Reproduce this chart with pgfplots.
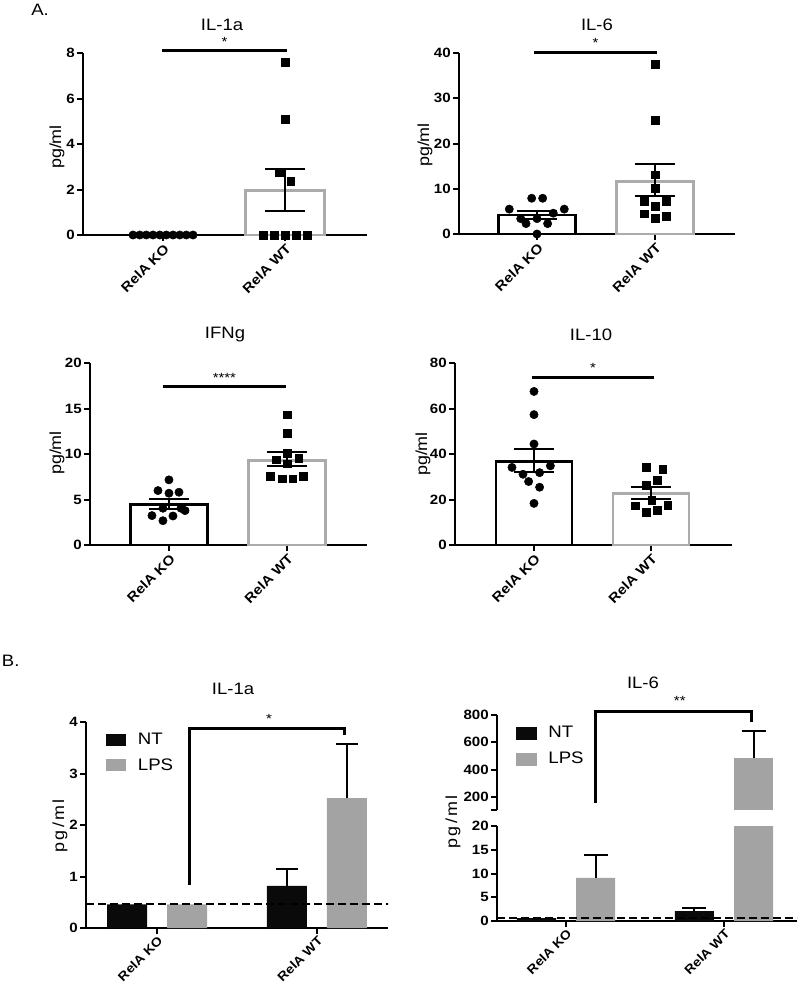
\documentclass[border=0pt]{standalone}
\usepackage{fontspec}
\setmainfont[FakeStretch=1.12]{Liberation Sans}
\usepackage{pgfplots}
\pgfplotsset{compat=1.18}
\definecolor{bargray}{HTML}{A3A3A3}
\definecolor{edgegray}{HTML}{ABABAB}
\definecolor{ntc}{HTML}{0A0A0A}
\newcommand{\tickfont}{\bfseries\fontsize{10.1}{12}\selectfont}
\newcommand{\btickfont}{\bfseries\fontsize{9.4}{11}\selectfont}
\newcommand{\titlefont}{\fontsize{12.4}{14}\selectfont}
\newcommand{\labfont}{\fontsize{12}{14}\selectfont}
\newcommand{\starfont}{\fontsize{10}{11}\selectfont}
\newcommand{\legfont}{\fontsize{12.5}{14}\selectfont}
\pgfplotsset{
  gp/.style={
    scale only axis, anchor=south west,
    axis lines=left, axis line style={-, line width=1.5pt},
    tick align=outside, major tick length=4.5pt,
    every tick/.style={black, line width=1.5pt},
    ymin=0, xtick={0,1}, xticklabels={RelA KO, RelA WT},
    x tick label style={rotate=45, anchor=north east, inner sep=1pt, font=\tickfont},
    y tick label style={font=\tickfont, inner sep=1.5pt},
    /pgf/number format/assume math mode=true,
  },
  bx/.style={x tick label style={font=\btickfont, inner sep=0.5pt}},
  kobar/.style={ybar, bar shift=0pt, fill=white, draw=black, line width=2pt},
  wtbar/.style={ybar, bar shift=0pt, fill=white, draw=edgegray, line width=2pt},
  errA/.style={draw=none, mark=none, forget plot,
    error bars/.cd, y dir=both, y explicit,
    error bar style={line width=1.5pt, black},
    error mark options={rotate=90, line width=1.5pt, black, mark size=15pt}},
  errB/.style={draw=none, mark=none, forget plot,
    error bars/.cd, y dir=plus, y explicit,
    error bar style={line width=1.5pt, black},
    error mark options={rotate=90, line width=1.5pt, black, mark size=#1}},
  kopts/.style={only marks, mark=*, mark size=3.1pt, black},
  wtpts/.style={only marks, mark=square*, mark size=2.9pt, black},
  ntleg/.style={legend image code/.code={\fill[ntc] (0pt,-4.5pt) rectangle (15pt,4.5pt);}},
  lpsleg/.style={legend image code/.code={\fill[bargray] (0pt,-4.5pt) rectangle (15pt,4.5pt);}},
  bleg/.style={legend style={draw=none, fill=none, at={#1}, anchor=north west,
    font=\legfont, row sep=5pt, column sep=7pt, inner sep=0pt},
    legend cell align=left},
}
\begin{document}
\begin{tikzpicture}
\path[use as bounding box] (0pt,0pt) rectangle (600pt,-738.75pt);

% ---------- text ----------
\node[font=\titlefont] at (30pt,-7pt) {A.};
\node[font=\titlefont] at (8pt,-495.75pt) {B.};
\node[font=\titlefont] at (166.5pt,-18.75pt) {IL-1a};
\node[font=\titlefont] at (447.75pt,-18.75pt) {IL-6};
\node[font=\titlefont] at (168.75pt,-251.25pt) {IFNg};
\node[font=\titlefont] at (443.25pt,-251.25pt) {IL-10};
\node[font=\titlefont] at (174.75pt,-516.75pt) {IL-1a};
\node[font=\titlefont] at (482.25pt,-512.25pt) {IL-6};
\node[font=\labfont, rotate=90] at (42.75pt,-110.25pt) {pg/ml};
\node[font=\labfont, rotate=90] at (318.75pt,-108.75pt) {pg/ml};
\node[font=\labfont, rotate=90] at (42.75pt,-339.75pt) {pg/ml};
\node[font=\labfont, rotate=90] at (317.25pt,-340.5pt) {pg/ml};
\node[font=\labfont\addfontfeature{LetterSpace=14}, rotate=90] at (45pt,-619.5pt) {pg/ml};
\node[font=\labfont\addfontfeature{LetterSpace=14}, rotate=90] at (339.75pt,-616.5pt) {pg/ml};

% ---------- A1 IL-1a ----------
\begin{axis}[gp, at={(62.25pt,-176.25pt)}, width=213pt, height=136.5pt,
  xmin=-0.656, xmax=1.672, ymax=8, ytick={0,2,4,6,8}, clip=false]
\addplot[kobar, bar width=0.648] coordinates {(0,0)};
\addplot[wtbar, bar width=0.648] coordinates {(1,1.95)};
\addplot[errA] coordinates {(1,1.95) += (0,0.95) -= (0,0.9)};
\addplot[kopts] coordinates {(-0.246,0) (-0.191,0) (-0.137,0) (-0.082,0) (-0.027,0) (0.027,0) (0.082,0) (0.137,0) (0.191,0) (0.246,0)};
\addplot[wtpts] coordinates {(1,7.6) (1,5.1) (0.954,2.75) (1.046,2.35) (0.82,0) (0.91,0) (1,0) (1.09,0) (1.18,0)};
\draw[line width=2.25pt] (-0.008,8.09) -- (1.016,8.09) node[midway, above=-1pt, font=\starfont] {*};
\end{axis}

% ---------- A2 IL-6 ----------
\begin{axis}[gp, at={(344.25pt,-175.5pt)}, width=207pt, height=135.75pt,
  xmin=-0.661, xmax=1.678, ymax=40, ytick={0,10,20,30,40}, clip=false]
\addplot[kobar, bar width=0.653] coordinates {(0,4.2)};
\addplot[wtbar, bar width=0.653] coordinates {(1,11.6)};
\addplot[errA] coordinates {(0,4.2) += (0,0.9) -= (0,0.8)};
\addplot[errA] coordinates {(1,11.6) += (0,3.8) -= (0,3.3)};
\addplot[kopts] coordinates {(-0.045,7.9) (0.048,7.9) (-0.235,5.5) (0.231,5.5) (0.138,4.6) (-0.138,3.4) (0,3.4) (-0.093,2.3) (0.09,2.3) (0,0)};
\addplot[wtpts] coordinates {(1,37.5) (1,25.2) (1,13.1) (1,10.1) (0.907,7.2) (1.093,7.2) (1,6.1) (0.907,4.5) (1,3.4) (1.093,3.9)};
\draw[line width=2.25pt] (-0.025,40.2) -- (1.017,40.2) node[midway, above=-1pt, font=\starfont] {*};
\end{axis}

% ---------- A3 IFNg ----------
\begin{axis}[gp, at={(67.5pt,-408.75pt)}, width=207.75pt, height=136.5pt,
  xmin=-0.669, xmax=1.678, ymax=20, ytick={0,5,10,15,20}, clip=false]
\addplot[kobar, bar width=0.653] coordinates {(0,4.48)};
\addplot[wtbar, bar width=0.653] coordinates {(1,9.28)};
\addplot[errA] coordinates {(0,4.48) += (0,0.55) -= (0,0.55)};
\addplot[errA] coordinates {(1,9.28) += (0,0.89) -= (0,0.58)};
\addplot[kopts] coordinates {(0,7.16) (-0.093,5.98) (0,5.69) (0.085,5.8) (-0.051,4.04) (0.102,4.04) (0.136,3.78) (-0.144,3.23) (0.034,3.19) (-0.051,2.67)};
\addplot[wtpts] coordinates {(1,14.3) (1,12.3) (1,10.1) (0.907,9.36) (1.099,9.54) (1,8.92) (0.859,7.52) (0.958,7.27) (1.048,7.27) (1.141,7.52)};
\draw[line width=2.25pt] (-0.05,17.4) -- (0.99,17.4) node[midway, above=-1pt, font=\starfont] {****};
\end{axis}

% ---------- A4 IL-10 ----------
\begin{axis}[gp, at={(341.25pt,-408.75pt)}, width=207.75pt, height=136.5pt,
  xmin=-0.675, xmax=1.692, ymax=80, ytick={0,20,40,60,80}, clip=false]
\addplot[kobar, bar width=0.65] coordinates {(0,36.7)};
\addplot[wtbar, bar width=0.65] coordinates {(1,22.7)};
\addplot[errA] coordinates {(0,36.7) += (0,5.4) -= (0,4.4)};
\addplot[errA] coordinates {(1,22.7) += (0,3.0) -= (0,2.6)};
\addplot[kopts] coordinates {(0,67.5) (0,57.3) (0,44.4) (-0.188,34.1) (0.14,34.8) (-0.094,31.1) (0.048,31.8) (-0.046,27.9) (0.048,25.4) (0,18.3)};
\addplot[wtpts] coordinates {(0.957,34.1) (1.1,33.4) (1.051,28.6) (0.957,26.4) (1.006,19.8) (0.863,17.2) (1.142,17.6) (0.957,14.4) (1.051,15.4)};
\draw[line width=2.25pt] (-0.017,73.8) -- (1.026,73.8) node[midway, above=-1pt, font=\starfont] {*};
\end{axis}

% ---------- B1 IL-1a ----------
\begin{axis}[gp, bx, at={(64.5pt,-696pt)}, width=226.5pt, height=154.5pt,
  xmin=-0.444, xmax=1.444, ymax=4, ytick={0,1,2,3,4}, clip mode=individual,
  bleg={(0.065,0.96)}]
\addplot[ybar, bar shift=0pt, bar width=0.25, fill=ntc, draw=none, ntleg] coordinates {(-0.1875,0.46) (0.8125,0.82)};
\addlegendentry{NT}
\addplot[ybar, bar shift=0pt, bar width=0.25, fill=bargray, draw=none, lpsleg] coordinates {(0.1875,0.46) (1.1875,2.52)};
\addlegendentry{LPS}
\addplot[errB=8pt] coordinates {(0.8125,0.82) +- (0,0.33) (1.1875,2.52) +- (0,1.06)};
\addplot[forget plot, black, line width=1.5pt, dash pattern=on 6pt off 3pt] coordinates {(-0.444,0.465) (1.47,0.465)};
\draw[line width=2.25pt] (0.206,0.84) -- (0.206,3.87) -- (1.175,3.87) -- (1.175,3.74);
\node[font=\starfont] at (0.7,4.06) {*};
\end{axis}

% ---------- B2 IL-6 lower ----------
\begin{axis}[gp, bx, at={(372.75pt,-690.75pt)}, width=225pt, height=71.25pt,
  xmin=-0.437, xmax=1.462, ymax=20, ytick={0,5,10,15,20}, clip mode=individual]
\addplot[ybar, bar shift=0pt, bar width=0.247, fill=ntc, draw=none] coordinates {(-0.187,0.6) (0.813,2.1)};
\addplot[ybar, bar shift=0pt, bar width=0.247, fill=bargray, draw=none] coordinates {(0.187,9.1) (1.187,489)};
\addplot[errB=9pt] coordinates {(0.813,2.1) +- (0,0.55) (0.187,9.1) +- (0,4.9)};
\addplot[forget plot, black, line width=1.5pt, dash pattern=on 6pt off 3pt] coordinates {(-0.437,0.6) (1.47,0.6)};
\end{axis}

% ---------- B2 IL-6 upper ----------
\begin{axis}[gp, axis x line=none, at={(372.75pt,-607.5pt)}, width=225pt, height=71.25pt,
  xmin=-0.437, xmax=1.462, ymin=105, ymax=800, ytick={200,400,600,800},
  extra y ticks={105}, extra y tick labels={}, xtick=\empty, clip mode=individual,
  bleg={(0.062,0.91)}]
\addlegendimage{ntleg}
\addlegendentry{NT}
\addlegendimage{lpsleg}
\addlegendentry{LPS}
\addplot[forget plot, ybar, bar shift=0pt, bar width=0.247, fill=bargray, draw=none] coordinates {(1.187,489)};
\addplot[errB=9pt] coordinates {(1.187,489) +- (0,193)};
\draw[line width=2.25pt] (0.184,156) -- (0.184,822) -- (1.177,822) -- (1.177,749);
\node[font=\starfont] at (0.72,900) {**};
\end{axis}
\end{tikzpicture}
\end{document}
